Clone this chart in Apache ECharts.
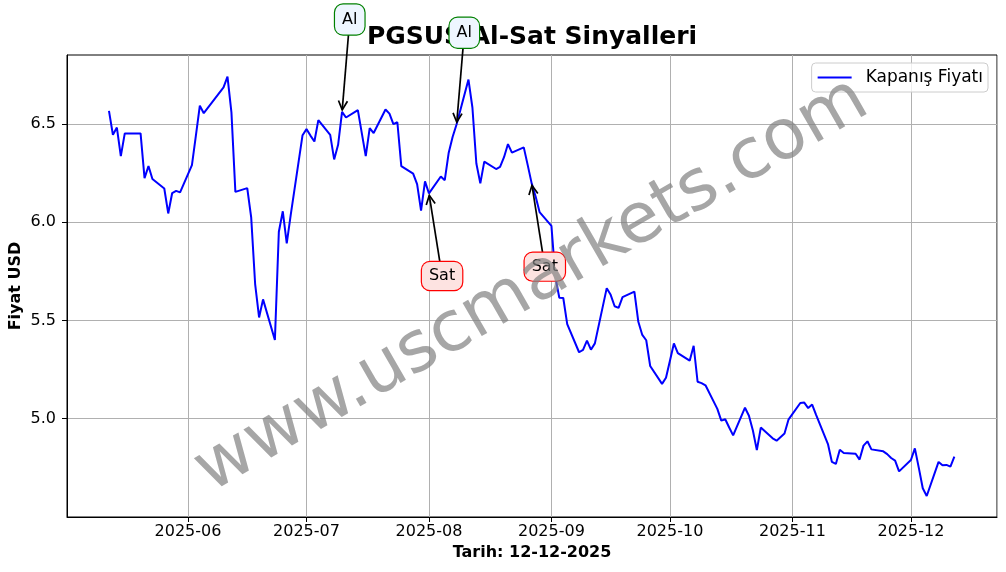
<!DOCTYPE html>
<html>
<head>
<meta charset="utf-8">
<title>PGSUS Al-Sat Sinyalleri</title>
<script src="https://cdn.jsdelivr.net/npm/echarts@6/dist/echarts.min.js"></script>
<style>
  html, body { margin: 0; padding: 0; background: #fff; }
  #chart { width: 1006px; height: 572px; }
</style>
</head>
<body>
<div id="chart"></div>
<script>
// kapanış fiyatları
const dates = [
  "2025-05-12", "2025-05-13", "2025-05-14", "2025-05-15", "2025-05-16",
  "2025-05-20", "2025-05-21", "2025-05-22", "2025-05-23",
  "2025-05-26", "2025-05-27", "2025-05-28", "2025-05-29", "2025-05-30",
  "2025-06-02", "2025-06-03", "2025-06-04", "2025-06-05",
  "2025-06-10", "2025-06-11", "2025-06-12", "2025-06-13",
  "2025-06-16", "2025-06-17", "2025-06-18", "2025-06-19", "2025-06-20",
  "2025-06-23", "2025-06-24", "2025-06-25", "2025-06-26", "2025-06-27",
  "2025-06-30", "2025-07-01", "2025-07-02", "2025-07-03", "2025-07-04",
  "2025-07-07", "2025-07-08", "2025-07-09", "2025-07-10", "2025-07-11",
  "2025-07-14", "2025-07-16", "2025-07-17", "2025-07-18",
  "2025-07-21", "2025-07-22", "2025-07-23", "2025-07-24", "2025-07-25",
  "2025-07-28", "2025-07-29", "2025-07-30", "2025-07-31", "2025-08-01",
  "2025-08-04", "2025-08-05", "2025-08-06", "2025-08-07", "2025-08-08",
  "2025-08-11", "2025-08-12", "2025-08-13", "2025-08-14", "2025-08-15",
  "2025-08-18", "2025-08-19", "2025-08-20", "2025-08-21", "2025-08-22",
  "2025-08-25", "2025-08-26", "2025-08-27", "2025-08-28", "2025-08-29",
  "2025-09-01", "2025-09-02", "2025-09-03", "2025-09-04", "2025-09-05",
  "2025-09-08", "2025-09-09", "2025-09-10", "2025-09-11", "2025-09-12",
  "2025-09-15", "2025-09-16", "2025-09-17", "2025-09-18", "2025-09-19",
  "2025-09-22", "2025-09-23", "2025-09-24", "2025-09-25", "2025-09-26",
  "2025-09-29", "2025-09-30", "2025-10-01", "2025-10-02", "2025-10-03",
  "2025-10-06", "2025-10-07", "2025-10-08", "2025-10-09", "2025-10-10",
  "2025-10-13", "2025-10-14", "2025-10-15", "2025-10-16", "2025-10-17",
  "2025-10-20", "2025-10-21", "2025-10-22", "2025-10-23", "2025-10-24",
  "2025-10-27", "2025-10-28", "2025-10-30", "2025-10-31",
  "2025-11-03", "2025-11-04", "2025-11-05", "2025-11-06", "2025-11-07",
  "2025-11-10", "2025-11-11", "2025-11-12", "2025-11-13", "2025-11-14",
  "2025-11-17", "2025-11-18", "2025-11-19", "2025-11-20", "2025-11-21",
  "2025-11-24", "2025-11-25", "2025-11-26", "2025-11-27", "2025-11-28",
  "2025-12-01", "2025-12-02", "2025-12-03", "2025-12-04", "2025-12-05",
  "2025-12-08", "2025-12-09", "2025-12-10", "2025-12-11", "2025-12-12"
];
const closes = [
  6.566, 6.444, 6.481, 6.336, 6.451,
  6.451, 6.224, 6.285, 6.219,
  6.171, 6.044, 6.148, 6.159, 6.151,
  6.290, 6.440, 6.592, 6.554,
  6.685, 6.740, 6.558, 6.154,
  6.173, 6.024, 5.685, 5.515, 5.607,
  5.400, 5.951, 6.055, 5.892, 6.035,
  6.442, 6.473, 6.440, 6.410, 6.519,
  6.444, 6.319, 6.393, 6.561, 6.532,
  6.570, 6.336, 6.478, 6.453,
  6.573, 6.552, 6.498, 6.508, 6.285,
  6.247, 6.193, 6.058, 6.207, 6.146,
  6.232, 6.213, 6.353, 6.434, 6.498,
  6.725, 6.583, 6.298, 6.197, 6.308,
  6.270, 6.281, 6.330, 6.397, 6.353,
  6.380, 6.290, 6.197, 6.130, 6.051,
  5.981, 5.720, 5.615, 5.614, 5.481,
  5.338, 5.350, 5.397, 5.351, 5.383,
  5.664, 5.630, 5.572, 5.564, 5.618,
  5.646, 5.493, 5.426, 5.399, 5.268,
  5.177, 5.208, 5.295, 5.383, 5.334,
  5.295, 5.371, 5.188, 5.181, 5.170,
  5.050, 4.990, 4.997, 4.955, 4.915,
  5.056, 5.015, 4.940, 4.840, 4.955,
  4.900, 4.888, 4.925, 4.995,
  5.080, 5.082, 5.054, 5.072, 5.020,
  4.871, 4.780, 4.770, 4.842, 4.826,
  4.822, 4.792, 4.863, 4.885, 4.844,
  4.834, 4.820, 4.800, 4.787, 4.732,
  4.790, 4.849, 4.750, 4.646, 4.607,
  4.780, 4.763, 4.765, 4.756, 4.807
];

// al / sat sinyalleri
const signalDates = ["2025-07-10", "2025-08-08", "2025-08-01", "2025-08-27"];
const signalTypes = ["Al", "Al", "Sat", "Sat"];

// eksen işaretleri
const monthTicks = ["2025-06-01", "2025-07-01", "2025-08-01", "2025-09-01", "2025-10-01", "2025-11-01", "2025-12-01"];
const yTicks = [5.0, 5.5, 6.0, 6.5];
const FONT = "DejaVu Sans";

const measureCtx = document.createElement("canvas").getContext("2d");
measureCtx.font = `16px "${FONT}"`;

const signalData = signalDates.map(d => [d, closes[dates.indexOf(d)]]);

const chart = echarts.init(document.getElementById("chart"));

const option = {
  animation: false,
  title: {
    text: "PGSUS Al-Sat Sinyalleri",
    left: 532,
    top: 25,
    textAlign: "center",
    padding: 0,
    z: 1,
    textStyle: { fontFamily: FONT, fontSize: 25, fontWeight: "bold", color: "#000", lineHeight: 25 },
  },
  legend: {
    data: [{ name: "Kapanış Fiyatı", icon: "rect" }],
    right: 18,
    top: 63,
    padding: [6, 5, 6, 6],
    itemWidth: 34,
    itemHeight: 2,
    selectedMode: false,
    borderColor: "#cccccc",
    borderWidth: 1,
    borderRadius: 4,
    backgroundColor: "rgba(255,255,255,0.8)",
    textStyle: { fontFamily: FONT, fontSize: 17, color: "#000", padding: [0, 0, 0, 9] },
  },
  grid: {
    left: 67,
    right: 9,
    top: 55,
    bottom: 55,
    containLabel: false,
    outerBoundsMode: "none",
    show: true,
    borderColor: "#000",
    borderWidth: 1,
    backgroundColor: "transparent",
  },
  xAxis: {
    type: "time",
    min: "2025-05-01 09:00",
    max: "2025-12-22 19:00",
    minInterval: 28 * 86400000,
    maxInterval: 31 * 86400000,
    name: "Tarih: 12-12-2025",
    nameLocation: "middle",
    nameGap: 28,
    nameMoveOverlap: false,
    nameTextStyle: { fontFamily: FONT, fontSize: 16, fontWeight: "bold", color: "#000" },
    axisLine: { show: true, lineStyle: { color: "#000", width: 1 } },
    axisTick: { show: true, length: 5, lineStyle: { color: "#000" } },
    axisLabel: {
      fontFamily: FONT,
      fontSize: 16,
      color: "#000",
      margin: 7,
      formatter(value) {
        const label = echarts.time.format(value, "{yyyy}-{MM}", false);
        return monthTicks.includes(echarts.time.format(value, "{yyyy}-{MM}-{dd}", false)) &&
          new Date(value).getHours() === 0 ? label : "";
      },
    },
    splitLine: { show: true, lineStyle: { color: "#b0b0b0", width: 1 } },
  },
  yAxis: {
    type: "value",
    min: 4.5,
    max: 6.85,
    interval: 0.5,
    name: "Fiyat USD",
    nameLocation: "middle",
    nameRotate: 90,
    nameGap: 43,
    nameMoveOverlap: false,
    nameTextStyle: { fontFamily: FONT, fontSize: 16, fontWeight: "bold", color: "#000" },
    axisLine: { show: true, lineStyle: { color: "#000", width: 1 } },
    axisTick: { show: true, length: 5, customValues: yTicks, lineStyle: { color: "#000" } },
    axisLabel: {
      fontFamily: FONT,
      fontSize: 16,
      color: "#000",
      margin: 11,
      customValues: yTicks,
      formatter: value => value.toFixed(1),
    },
    splitLine: { show: true, lineStyle: { color: "#b0b0b0", width: 1 } },
  },
  series: [
    {
      name: "Kapanış Fiyatı",
      type: "line",
      data: dates.map((d, i) => [d, closes[i]]),
      showSymbol: false,
      color: "#0000ff",
      lineStyle: { color: "#0000ff", width: 2 },
      z: 3,
    },
    {
      name: "sinyaller",
      type: "custom",
      data: signalData,
      clip: false,
      z: 10,
      renderItem(params, api) {
        const kind = signalTypes[params.dataIndex];
        const price = api.value(1);
        const up = kind === "Al";
        const pt = api.coord([api.value(0), price]);
        const anchor = api.coord([api.value(0), up ? price * 1.07 : price * 0.93]);
        const padX = 7;
        const tw = measureCtx.measureText(kind).width;
        const bw = tw + padX * 2;
        const bh = up ? 30 : 28;
        const cx = anchor[0] + tw / 2;
        const cy = anchor[1] - 2;

        // ok: kutu kenarından noktaya
        const dx = pt[0] - cx, dy = pt[1] - cy;
        const len = Math.sqrt(dx * dx + dy * dy);
        const ux = dx / len, uy = dy / len;
        const t = Math.min(Math.abs(bh / 2 / dy) || Infinity, Math.abs(bw / 2 / dx) || Infinity);
        const sx = cx + dx * t, sy = cy + dy * t;
        const ex = pt[0] - ux * 2, ey = pt[1] - uy * 2;
        const hl = 9, hw = 4.5;
        const bx = ex - ux * hl, by = ey - uy * hl;

        return {
          type: "group",
          children: [
            {
              type: "line",
              shape: { x1: sx, y1: sy, x2: ex, y2: ey },
              style: { stroke: "#000", lineWidth: 1.7 },
            },
            {
              type: "polyline",
              shape: { points: [[bx - uy * hw, by + ux * hw], [ex, ey], [bx + uy * hw, by - ux * hw]] },
              style: { stroke: "#000", lineWidth: 1.7, fill: null },
            },
            {
              type: "text",
              x: cx,
              y: cy,
              style: {
                text: kind,
                fontFamily: FONT,
                fontSize: 16,
                fill: "#000",
                align: "center",
                verticalAlign: "middle",
                width: tw,
                padding: [(bh - 18) / 2, padX, (bh - 18) / 2, padX],
                lineHeight: 18,
                backgroundColor: up ? "#eef6ff" : "#fde3e1",
                borderColor: up ? "#008000" : "#ff0000",
                borderWidth: 1.2,
                borderRadius: 8,
              },
            },
          ],
        };
      },
    },
  ],
  graphic: [
    {
      type: "text",
      x: 532,
      y: 286,
      rotation: Math.PI / 6,
      z: 100,
      silent: true,
      style: {
        text: "www.uscmarkets.com",
        fontFamily: FONT,
        fontSize: 70,
        fill: "rgba(128,128,128,0.7)",
        align: "center",
        verticalAlign: "middle",
      },
    },
  ],
};

chart.setOption(option);

window.addEventListener("resize", () => {
  chart.resize();
});
</script>
</body>
</html>
